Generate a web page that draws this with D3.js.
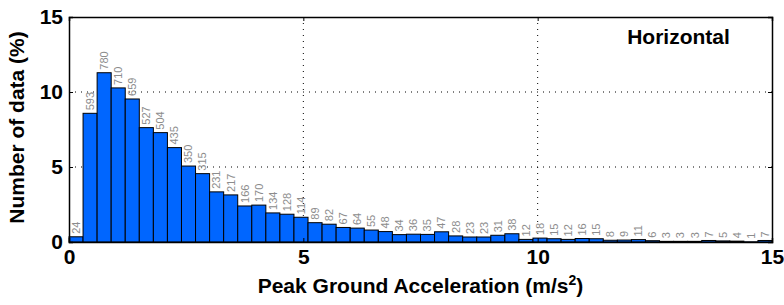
<!DOCTYPE html>
<html>
<head>
<meta charset="utf-8">
<script src="https://cdn.jsdelivr.net/npm/d3@7"></script>
<style>
  body { margin: 0; background: #fff; }
  text { font-family: "Liberation Sans Narrow", "Liberation Sans", Arial, sans-serif; }
  .lbl { font-family: "Liberation Sans", Arial, sans-serif; }
</style>
</head>
<body>
<svg id="chart" width="784" height="305"></svg>
<script>
var binWidth = 0.3,
  counts = [24, 593, 780, 710, 659, 527, 504, 435, 350, 315, 231, 217, 166, 170, 134, 128, 114, 89, 82, 67,
    64, 55, 48, 34, 36, 35, 47, 28, 23, 23, 31, 38, 12, 18, 15, 12, 16, 15, 8, 9,
    11, 6, 3, 3, 3, 7, 5, 4, 1, 7],
  xTicks = [0, 5, 10, 15],
  yTicks = [0, 5, 10, 15];

var total = d3.sum(counts);
var data = counts.map(function (c, i) {
  return { x0: i * binWidth, x1: (i + 1) * binWidth, count: c, pct: c / total * 100 };
});

var svg = d3.select("#chart"),
  margin = { top: 17, right: 12, bottom: 63, left: 69 },
  width = +svg.attr("width") - margin.left - margin.right,
  height = +svg.attr("height") - margin.top - margin.bottom,
  g = svg.append("g").attr("transform", "translate(" + margin.left + "," + margin.top + ")");

var x = d3.scaleLinear().domain([0, 15]).range([0, width]);
var y = d3.scaleLinear().domain([0, 15]).range([height, 0]);

// dotted grid
g.append("g")
  .selectAll("line.gx")
  .data(xTicks.slice(1, -1))
  .enter().append("line")
  .attr("x1", function (d) { return x(d); })
  .attr("x2", function (d) { return x(d); })
  .attr("y1", 0).attr("y2", height)
  .attr("stroke", "#000").attr("stroke-width", 1)
  .attr("stroke-dasharray", "1,5");

g.append("g")
  .selectAll("line.gy")
  .data(yTicks.slice(1, -1))
  .enter().append("line")
  .attr("y1", function (d) { return y(d); })
  .attr("y2", function (d) { return y(d); })
  .attr("x1", 0).attr("x2", width)
  .attr("stroke", "#000").attr("stroke-width", 1)
  .attr("stroke-dasharray", "1,5");

// bars
g.append("g")
  .selectAll("rect")
  .data(data)
  .enter().append("rect")
  .attr("x", function (d) { return x(d.x0); })
  .attr("width", function (d) { return x(d.x1) - x(d.x0); })
  .attr("y", function (d) { return y(d.pct); })
  .attr("height", function (d) { return y(0) - y(d.pct); })
  .attr("fill", "#0066ff")
  .attr("stroke", "#000")
  .attr("stroke-width", 1);

// count labels
g.append("g")
  .selectAll("text")
  .data(data)
  .enter().append("text")
  .attr("class", "lbl")
  .attr("transform", function (d) {
    return "translate(" + (x(d.x0) + x(d.x1)) / 2 + "," + (y(d.pct) - 3) + ") rotate(-90)";
  })
  .attr("dy", "0.35em")
  .attr("fill", "#8c8c8c")
  .style("font-size", "11px")
  .text(function (d) { return d.count; });

// axes
var xAxis = g.append("g")
  .attr("transform", "translate(0," + height + ")")
  .call(d3.axisBottom(x).tickValues(xTicks).tickSize(-4).tickPadding(7));
var yAxis = g.append("g")
  .call(d3.axisLeft(y).tickValues(yTicks).tickSize(-4).tickPadding(6));
g.append("g")
  .call(d3.axisTop(x).tickValues(xTicks).tickSize(-4).tickFormat(""));
g.append("g")
  .attr("transform", "translate(" + width + ",0)")
  .call(d3.axisRight(y).tickValues(yTicks).tickSize(-4).tickFormat(""));

g.selectAll(".domain").attr("stroke", "#000").attr("stroke-width", 1.5);
g.selectAll(".tick line").attr("stroke", "#000");
xAxis.selectAll("text").style("font-size", "21px").style("font-weight", "bold").attr("fill", "#000");
yAxis.selectAll("text").style("font-size", "21px").style("font-weight", "bold").attr("fill", "#000");

// labels
svg.append("text")
  .attr("x", margin.left + width / 2)
  .attr("y", 293)
  .attr("text-anchor", "middle")
  .style("font-size", "21px")
  .style("font-weight", "bold")
  .html('Peak Ground Acceleration (m/s<tspan dy="-8" style="font-size:14px">2</tspan><tspan dy="8">)</tspan>');

svg.append("text")
  .attr("transform", "translate(24," + (margin.top + height / 2 - 2) + ") rotate(-90)")
  .attr("text-anchor", "middle")
  .style("font-size", "21px")
  .style("font-weight", "bold")
  .text("Number of data (%)");

g.append("text")
  .attr("x", x(14.1))
  .attr("y", 27)
  .attr("text-anchor", "end")
  .style("font-size", "21px")
  .style("font-weight", "bold")
  .text("Horizontal");
</script>
</body>
</html>
